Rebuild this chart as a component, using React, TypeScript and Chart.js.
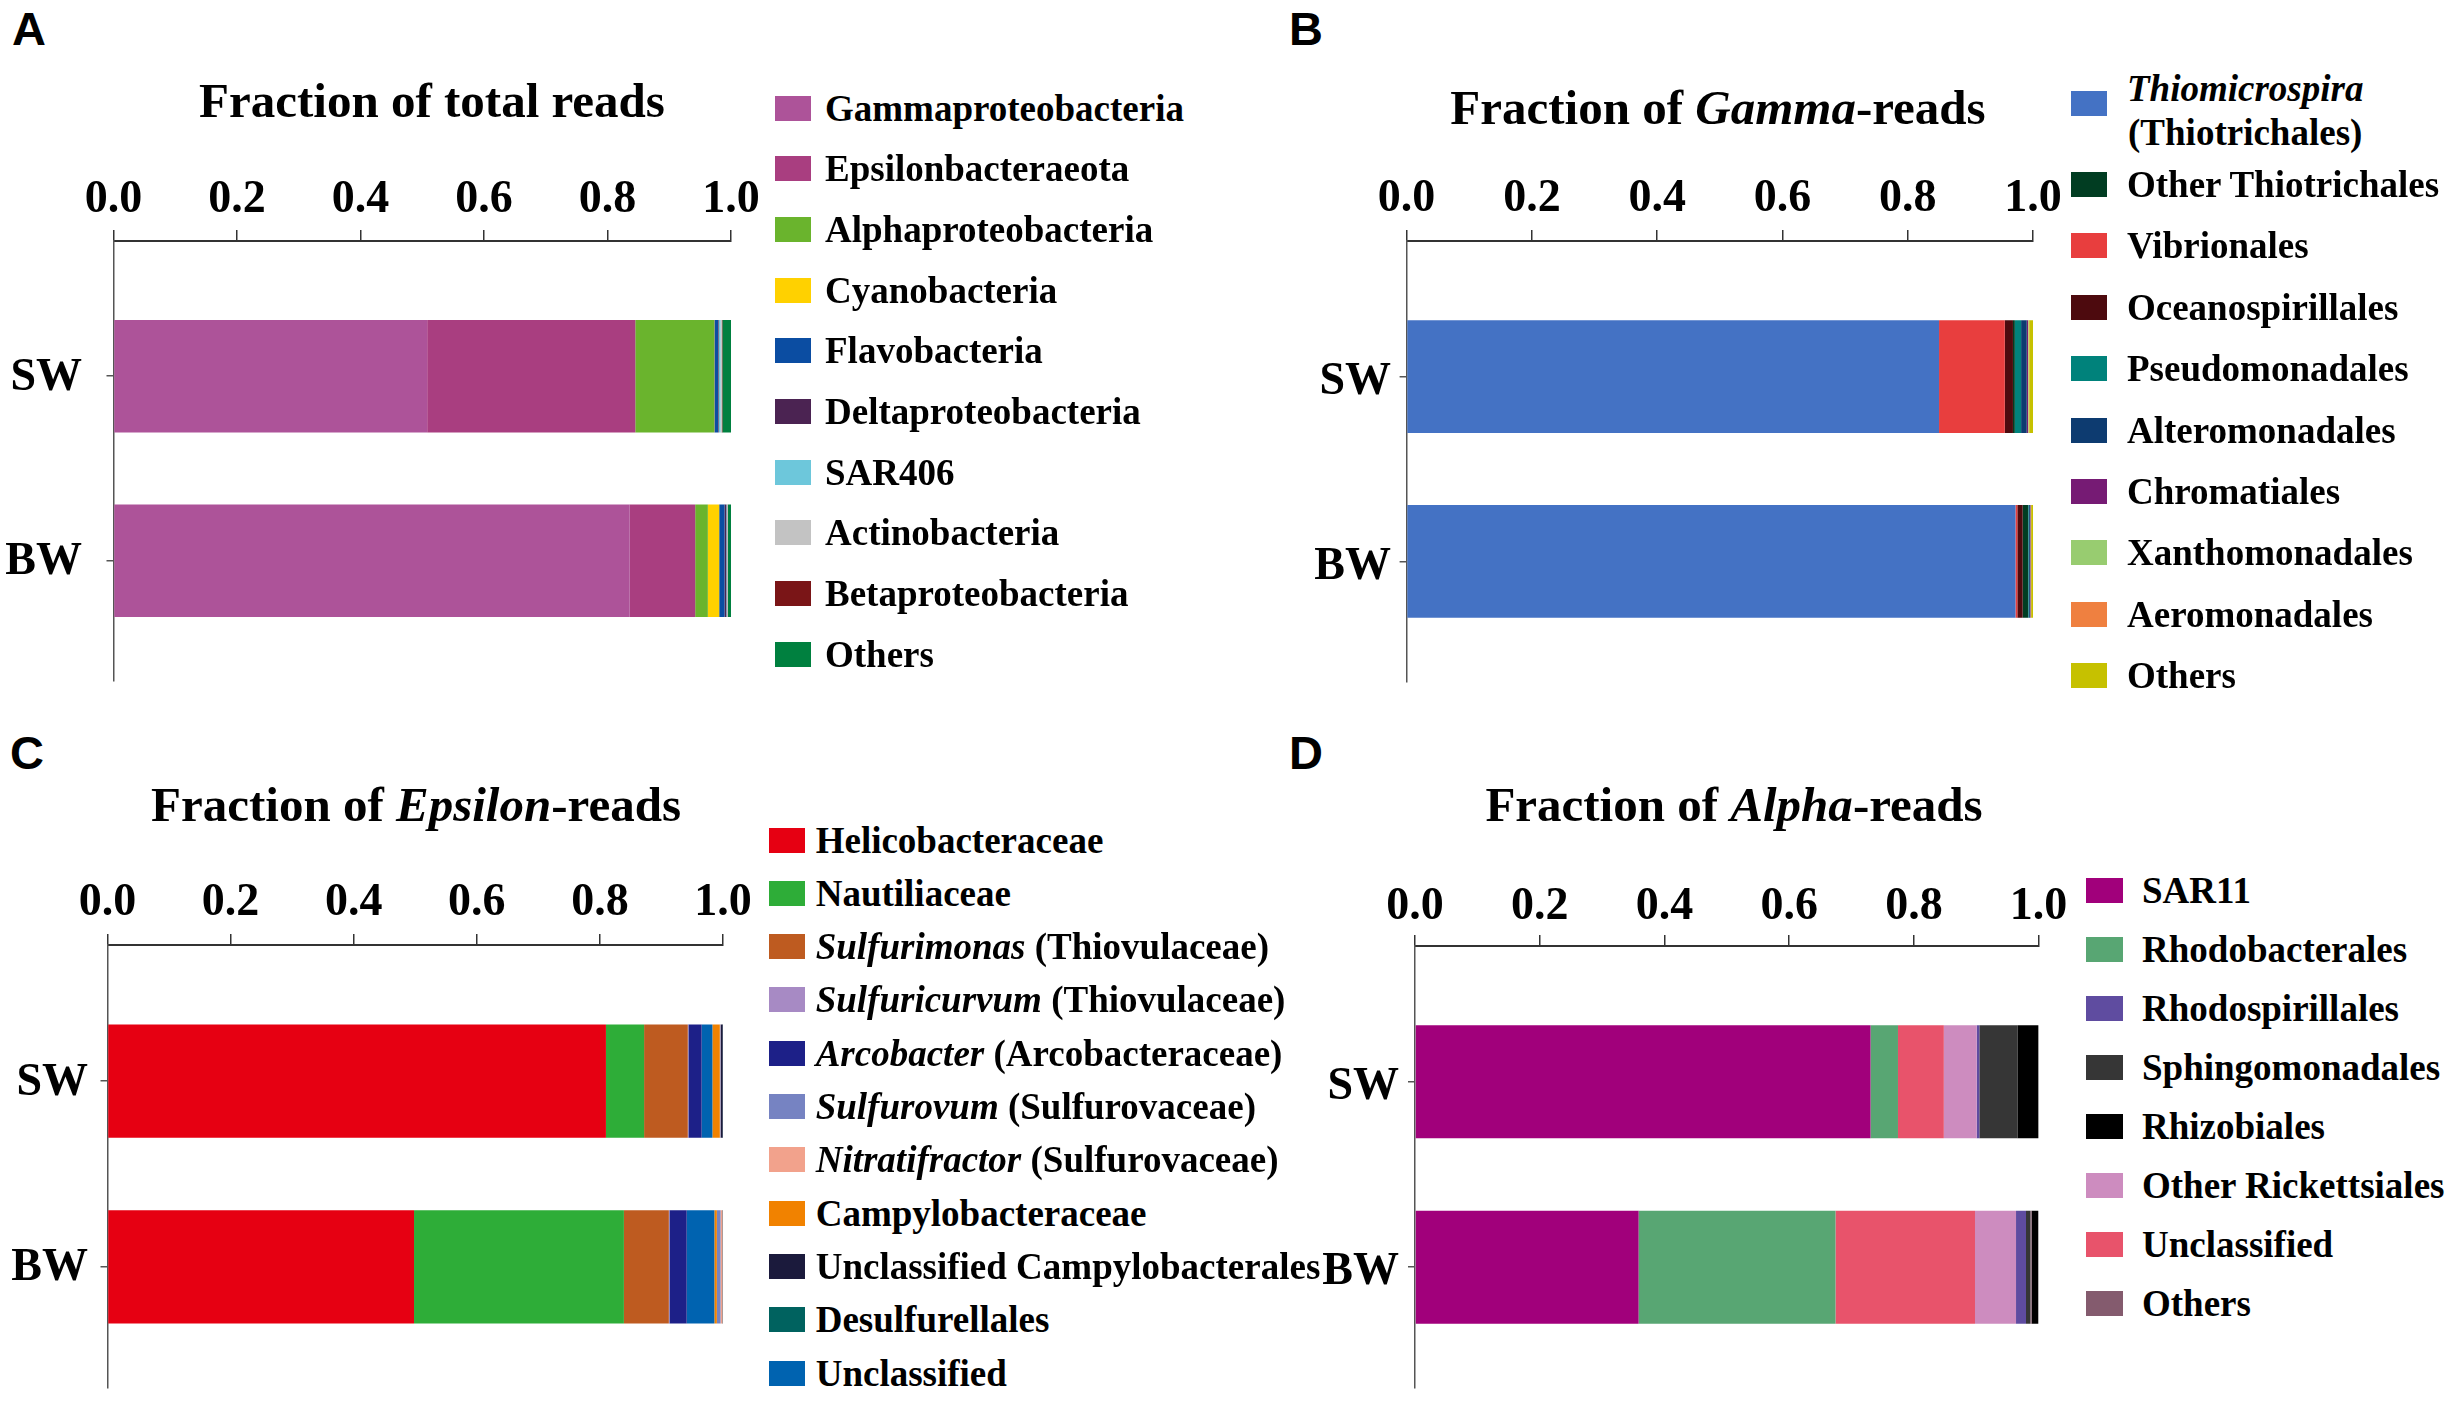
import React, { useEffect, useRef } from 'react';
import { Chart, registerables } from 'chart.js';

Chart.register(...registerables);

// ---------- shared ----------
const sites = ['SW', 'BW'];
const xTickLabels = ['0.0', '0.2', '0.4', '0.6', '0.8', '1.0'];

// ---------- Panel A ----------
const titleA = 'Fraction of total reads';
const namesA = ['Gammaproteobacteria', 'Epsilonbacteraeota', 'Alphaproteobacteria', 'Cyanobacteria', 'Flavobacteria', 'Deltaproteobacteria', 'SAR406', 'Actinobacteria', 'Betaproteobacteria', 'Others'];
const swA = [0.508, 0.337, 0.1275, 0.0005, 0.006, 0.001, 0.003, 0.002, 0.001, 0.014];
const bwA = [0.836, 0.106, 0.0205, 0.0184, 0.0086, 0.003, 0.001, 0.001, 0.0005, 0.005];
const colorsA = ['#AD5399', '#A93E80', '#6AB42D', '#FFD100', '#0B4DA2', '#4B2352', '#6DC7DB', '#C3C3C3', '#7A1517', '#00803F'];
const stackA = [0, 1, 2, 3, 4, 5, 6, 7, 8, 9];

// ---------- Panel B ----------
const titleB = 'Fraction of *Gamma*-reads';
const namesB = ['*Thiomicrospira*\n(Thiotrichales)', 'Other Thiotrichales', 'Vibrionales', 'Oceanospirillales', 'Pseudomonadales', 'Alteromonadales', 'Chromatiales', 'Xanthomonadales', 'Aeromonadales', 'Others'];
const swB = [0.85, 0.003, 0.105, 0.013, 0.010, 0.009, 0.002, 0.001, 0.001, 0.006];
const bwB = [0.972, 0.0085, 0.003, 0.0085, 0.001, 0.002, 0.001, 0.0005, 0.0005, 0.003];
const colorsB = ['#4472C4', '#013D22', '#E83E3E', '#4D0A0E', '#00827B', '#0D3B70', '#761B74', '#98CC70', '#EF8040', '#C6C100'];
const stackB = [0, 2, 3, 1, 4, 5, 6, 7, 8, 9];

// ---------- Panel C ----------
const titleC = 'Fraction of *Epsilon*-reads';
const namesC = ['Helicobacteraceae', 'Nautiliaceae', '*Sulfurimonas* (Thiovulaceae)', '*Sulfuricurvum* (Thiovulaceae)', '*Arcobacter* (Arcobacteraceae)', '*Sulfurovum* (Sulfurovaceae)', '*Nitratifractor* (Sulfurovaceae)', 'Campylobacteraceae', 'Unclassified Campylobacterales', 'Desulfurellales', 'Unclassified'];
const swC = [0.8098, 0.062, 0.071, 0.001, 0.0215, 0.001, 0.0005, 0.012, 0.0032, 0.0005, 0.0175];
const bwC = [0.498, 0.341, 0.073, 0.001, 0.028, 0.006, 0.003, 0.004, 0.0005, 0.0005, 0.045];
const colorsC = ['#E60012', '#2EAD38', '#BE5B20', '#A78AC4', '#1D2088', '#7683C2', '#F2A28C', '#F18200', '#1B1A3C', '#00625F', '#0063B0'];
const stackC = [0, 1, 2, 3, 4, 10, 7, 5, 6, 8, 9];

// ---------- Panel D ----------
const titleD = 'Fraction of *Alpha*-reads';
const namesD = ['SAR11', 'Rhodobacterales', 'Rhodospirillales', 'Sphingomonadales', 'Rhizobiales', 'Other Rickettsiales', 'Unclassified', 'Others'];
const swD = [0.7305, 0.044, 0.0043, 0.061, 0.034, 0.0527, 0.0735, 0.0];
const bwD = [0.3586, 0.3157, 0.016, 0.007, 0.011, 0.0658, 0.2237, 0.002];
const colorsD = ['#A1007B', '#58A673', '#5F4CA0', '#363636', '#000000', '#CD8CBF', '#E8536B', '#845B6E'];
const stackD = [0, 1, 6, 5, 2, 3, 7, 4];

// ---------- styling ----------
const SERIF = '"Liberation Serif", "Times New Roman", Times, serif';
const SANS = '"Liberation Sans", Arial, Helvetica, sans-serif';
const Y_MIN = -0.733;
const Y_MAX = 1.652;

type Geo = {
  left: number; top: number; width: number; height: number;
  x0: number; x1: number; yTop: number; yBottom: number;
  yPad: number; xPad: number; yLabelShift: number;
};

function rich(s: string) {
  return s.split('*').map((part, i) =>
    i % 2 ? <i key={i}>{part}</i> : <span key={i}>{part}</span>
  );
}

function BarPanel({ geo, names, sw, bw, colors, stack }: {
  geo: Geo; names: string[]; sw: number[]; bw: number[]; colors: string[]; stack: number[];
}) {
  const ref = useRef<HTMLCanvasElement | null>(null);
  useEffect(() => {
    if (!ref.current) return;
    const values = [sw, bw];
    const tickFont = { family: SERIF, size: 46, weight: 'bold' as const, lineHeight: 1 };
    const chart = new Chart(ref.current, {
      type: 'bar',
      data: {
        datasets: stack.map((k) => ({
          label: names[k],
          data: values.map((vals, i) => ({ x: vals[k], y: i })),
          backgroundColor: colors[k],
          borderWidth: 0,
          barPercentage: 0.61,
          categoryPercentage: 1,
        })),
      },
      options: {
        indexAxis: 'y',
        responsive: false,
        animation: false,
        layout: {
          padding: {
            left: 0,
            top: 0,
            right: geo.left + geo.width - geo.x1,
            bottom: geo.top + geo.height - geo.yBottom,
          },
        },
        plugins: { legend: { display: false }, tooltip: { enabled: false } },
        scales: {
          x: {
            type: 'linear',
            position: 'top',
            min: 0,
            max: 1,
            stacked: true,
            offset: false,
            ticks: {
              stepSize: 0.2,
              padding: geo.xPad,
              color: '#000',
              font: tickFont,
              maxRotation: 0,
              autoSkip: false,
              callback: (_v: any, i: number) => xTickLabels[i],
            },
            grid: { offset: false, drawOnChartArea: false, drawTicks: true, tickLength: 11, color: '#333', lineWidth: 1.5 },
            border: { display: true, color: '#333', width: 2 },
            afterFit: (s: any) => { s.height = geo.yTop - geo.top; },
          },
          y: {
            type: 'linear',
            reverse: true,
            stacked: true,
            min: Y_MIN,
            max: Y_MAX,
            bounds: 'data',
            grace: 0,
            offset: false,
            afterBuildTicks: (s: any) => { s.ticks = sites.map((_, i) => ({ value: i })); },
            ticks: {
              padding: geo.yPad,
              labelOffset: geo.yLabelShift,
              color: '#000',
              font: tickFont,
              autoSkip: false,
              callback: (v: any) => sites[Number(v)],
            },
            grid: { offset: false, drawOnChartArea: false, drawTicks: true, tickLength: 7, color: '#555', lineWidth: 1.5 },
            border: { display: true, color: '#555', width: 1.5 },
            afterFit: (s: any) => { s.width = geo.x0 - geo.left; },
          },
        },
      } as any,
    });
    return () => chart.destroy();
  }, []);
  return (
    <canvas
      ref={ref}
      width={geo.width}
      height={geo.height}
      style={{ position: 'absolute', left: geo.left, top: geo.top }}
    />
  );
}

function Legend({ names, colors, sqX, sqW, textX, y0, step, first }: {
  names: string[]; colors: string[]; sqX: number; sqW: number; textX: number; y0: number; step: number;
  first?: { sq: number; text: number; lineH: number };
}) {
  const fs = 37;
  return (
    <>
      {names.map((n, i) => {
        let c = y0 + i * step;
        let tc = c;
        const lines = n.split('\n');
        const lh = first && i === 0 ? first.lineH : fs;
        if (first && i === 0) { c = first.sq; tc = first.text; }
        return (
          <React.Fragment key={i}>
            <div style={{ position: 'absolute', left: sqX, top: c - 12.5, width: sqW, height: 25, background: colors[i] }} />
            <div style={{
              position: 'absolute', left: textX, top: tc - (lines.length * lh) / 2,
              fontFamily: SERIF, fontWeight: 'bold', fontSize: fs, lineHeight: `${lh}px`,
              whiteSpace: 'nowrap', color: '#000', textAlign: lines.length > 1 ? 'center' : 'left',
            }}>
              {lines.map((l, j) => <div key={j}>{rich(l)}</div>)}
            </div>
          </React.Fragment>
        );
      })}
    </>
  );
}

function Title({ text, cx, baseline }: { text: string; cx: number; baseline: number }) {
  const fs = 49;
  return (
    <div style={{
      position: 'absolute', left: cx, top: baseline - 0.8375 * fs, transform: 'translateX(-50%)',
      fontFamily: SERIF, fontWeight: 'bold', fontSize: fs, lineHeight: 1, whiteSpace: 'nowrap', color: '#000',
    }}>{rich(text)}</div>
  );
}

function Letter({ ch, x, baseline }: { ch: string; x: number; baseline: number }) {
  const fs = 47;
  return (
    <div style={{
      position: 'absolute', left: x, top: baseline - 0.8465 * fs,
      fontFamily: SANS, fontWeight: 'bold', fontSize: fs, lineHeight: 1, color: '#000',
    }}>{ch}</div>
  );
}

// canvas bottoms leave room (>= half label height + padding) so the plot bottom lands on yBottom
const geoA: Geo = { left: 0, top: 160, width: 776, height: 581, x0: 113.5, x1: 731, yTop: 241, yBottom: 681, yPad: 24.5, xPad: 7, yLabelShift: 1.5 };
const geoB: Geo = { left: 1230, top: 160, width: 848, height: 582, x0: 1406.6, x1: 2033, yTop: 241, yBottom: 682, yPad: 8.6, xPad: 7.5, yLabelShift: 6 };
const geoC: Geo = { left: 0, top: 865, width: 768, height: 583, x0: 107.5, x1: 723, yTop: 945, yBottom: 1388, yPad: 12.5, xPad: 7.5, yLabelShift: 1.5 };
const geoD: Geo = { left: 1230, top: 865, width: 853, height: 583, x0: 1415, x1: 2038.6, yTop: 946, yBottom: 1388, yPad: 9, xPad: 5, yLabelShift: 5 };

export default function App() {
  return (
    <div style={{
      position: 'absolute', left: 0, top: 0, width: 2455, height: 1401,
      background: '#fff', overflow: 'hidden',
    }}>
      <Letter ch="A" x={12} baseline={44.6} />
      <Letter ch="B" x={1289} baseline={44.6} />
      <Letter ch="C" x={10} baseline={769} />
      <Letter ch="D" x={1289} baseline={769} />

      <Title text={titleA} cx={432} baseline={117} />
      <Title text={titleB} cx={1718} baseline={124} />
      <Title text={titleC} cx={416} baseline={821} />
      <Title text={titleD} cx={1734} baseline={821.5} />

      <BarPanel geo={geoA} names={namesA} sw={swA} bw={bwA} colors={colorsA} stack={stackA} />
      <BarPanel geo={geoB} names={namesB} sw={swB} bw={bwB} colors={colorsB} stack={stackB} />
      <BarPanel geo={geoC} names={namesC} sw={swC} bw={bwC} colors={colorsC} stack={stackC} />
      <BarPanel geo={geoD} names={namesD} sw={swD} bw={bwD} colors={colorsD} stack={stackD} />

      <Legend names={namesA} colors={colorsA} sqX={775} sqW={36} textX={825} y0={108} step={60.7} />
      <Legend names={namesB} colors={colorsB} sqX={2071} sqW={36} textX={2127} y0={123} step={61.4}
        first={{ sq: 103, text: 111, lineH: 44 }} />
      <Legend names={namesC} colors={colorsC} sqX={768.6} sqW={36} textX={815.7} y0={840} step={53.3} />
      <Legend names={namesD} colors={colorsD} sqX={2086} sqW={37} textX={2142} y0={890.8} step={59} />
    </div>
  );
}
